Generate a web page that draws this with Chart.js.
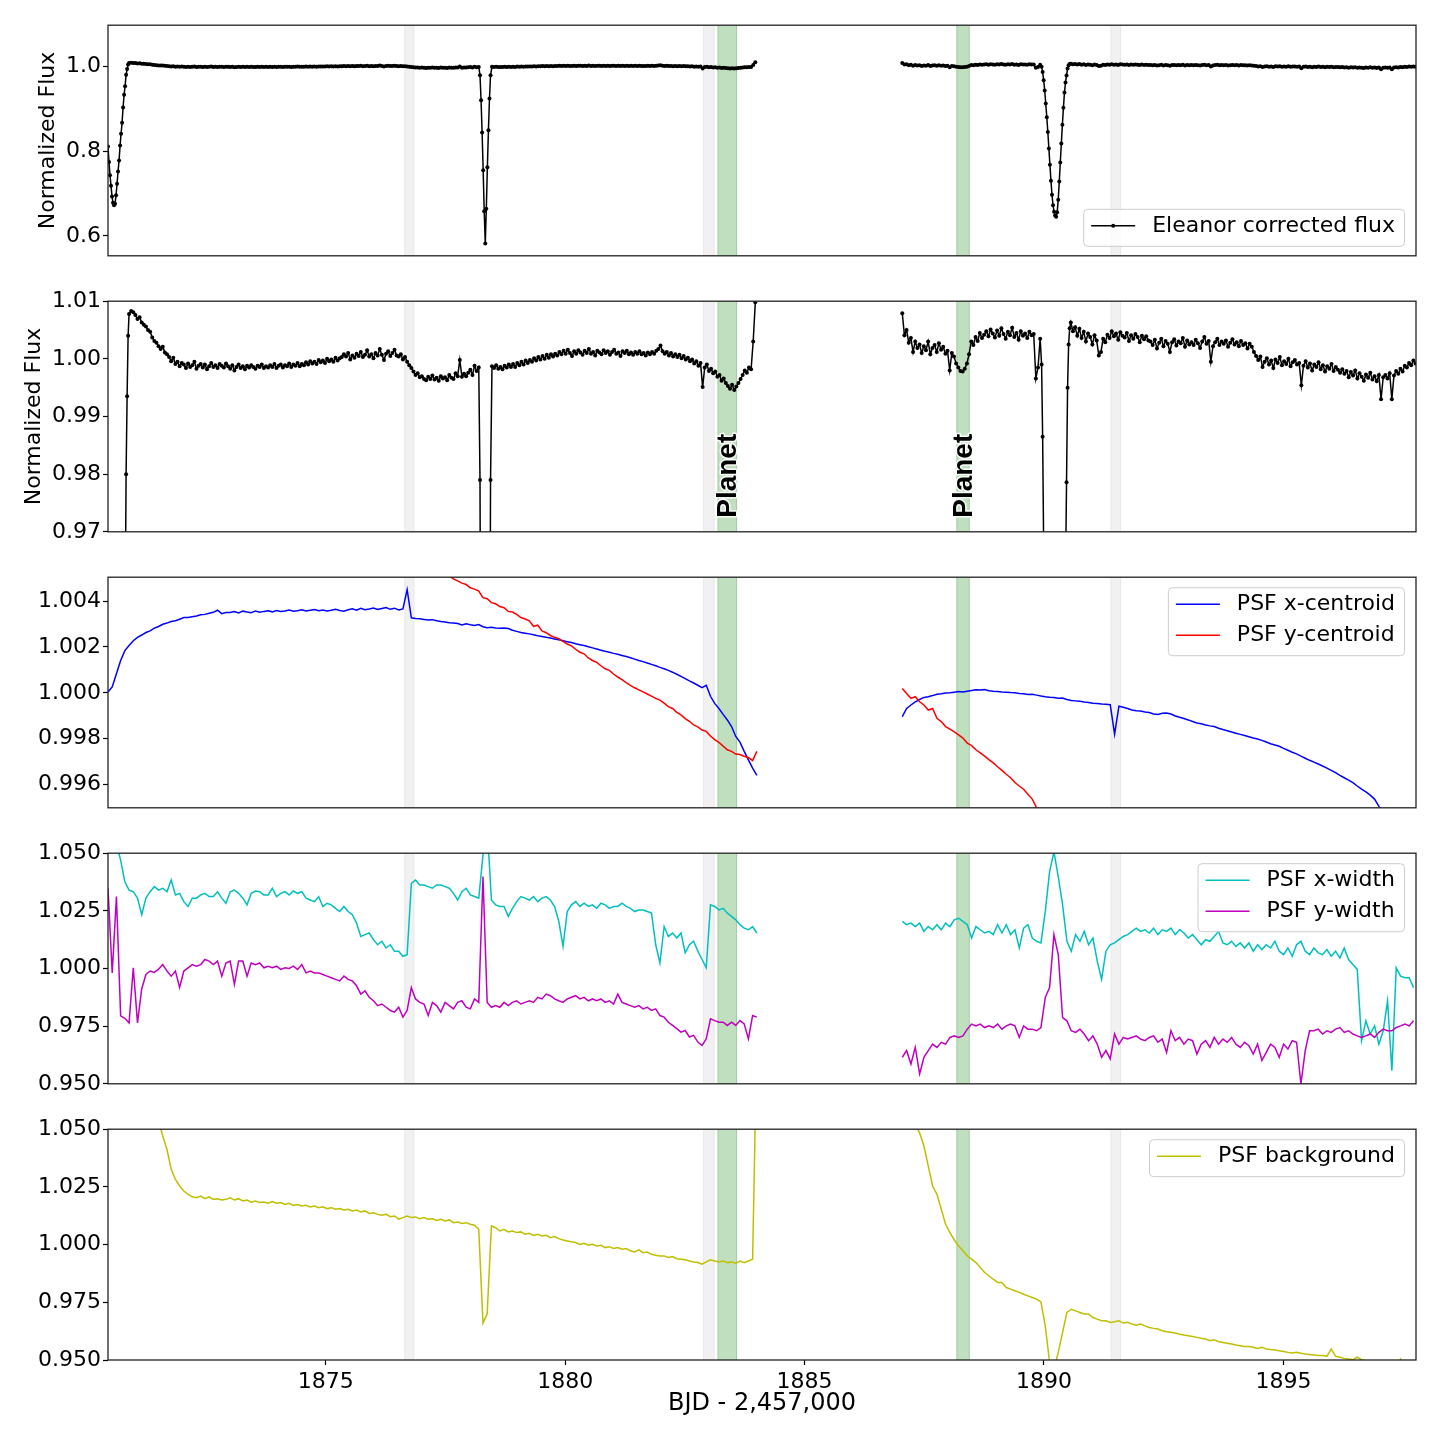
<!DOCTYPE html>
<html>
<head>
<meta charset="utf-8">
<title>Eleanor light curve and PSF diagnostics</title>
<script src="https://cdn.jsdelivr.net/npm/chart.js@4.4.0/dist/chart.umd.min.js"></script>
<style>
  html, body { margin: 0; padding: 0; background: #fff; }
  #wrap { position: relative; width: 1440px; height: 1440px; overflow: hidden; }
  #wrap canvas { position: absolute; left: 0; }
</style>
</head>
<body>
<div id="wrap">
  <canvas id="p1" width="1440" height="261"></canvas>
  <canvas id="p2" width="1440" height="261"></canvas>
  <canvas id="p3" width="1440" height="261"></canvas>
  <canvas id="p4" width="1440" height="261"></canvas>
  <canvas id="p5" width="1440" height="326"></canvas>
</div>
<script>
// x axis (BJD - 2457000)
const xMin = 1870.45, xMax = 1897.77;
const xTicks = [1875, 1880, 1885, 1890, 1895];
const gapTime = 1885.5;

// shaded regions
const grayBands = [[1876.64, 1876.85], [1882.88, 1883.12], [1891.39, 1891.61]];
const planetBands = [[1883.18, 1883.59], [1888.17, 1888.45]];

// y ticks per panel
const fluxTicksWide = [0.6, 0.8, 1.0];
const fluxTicksZoom = [0.97, 0.98, 0.99, 1.00, 1.01];
const centroidTicks = [0.996, 0.998, 1.000, 1.002, 1.004];
const widthTicks = [0.950, 0.975, 1.000, 1.025, 1.050];
const backgroundTicks = [0.950, 0.975, 1.000, 1.025, 1.050];

// eleanor corrected flux, in pieces (start time, cadence, values)
const fluxStartA = 1870.45, fluxStepA = 0.021;
const fluxA = [0.811,0.774,0.743,0.718,0.693,0.678,0.672,0.676,0.696,0.723,0.752,0.778,0.813,0.841,0.867,0.903,0.933,0.953,0.980,0.9935,1.0040];
const fluxStartB = 1870.89, fluxStepB = 0.044;
const fluxB = [1.0078,1.0083,1.0081,1.0076,1.0069,1.0072,1.0063,1.0059,1.0056,1.0050,1.0047,
  1.0037,1.0031,1.0028,1.0022,1.0017,1.0021,1.0011,1.0008,1.0003,
  0.9996,1.0002,0.9991,0.9995,0.9987,0.9993,
  0.9990,0.9984,0.9992,0.9986,0.9989,0.9995,0.9983,0.9988,0.9991,0.9985,0.9990,0.9982,0.9987,0.9993,0.9986,0.9989,0.9984,0.9991,0.9988,0.9985,0.9992,0.9987,0.9983,
  0.9989,0.9980,0.9986,0.9990,0.9984,0.9987,0.9982,0.9988,0.9985,0.9989,0.9986,0.9983,0.9988,0.9986,0.9990,0.9984,0.9987,0.9985,0.9989,0.9986,0.9991,0.9984,0.9988,0.9990,0.9985,0.9989,0.9987,0.9992,0.9986,0.9990,0.9988,0.9993,0.9987,0.9991,
  0.9989,0.9994,0.9990,0.9996,0.9992,0.9995,0.9991,0.9998,0.9994,0.9997,0.9993,1.0000,0.9996,0.9999,0.9995,1.0002,0.9997,1.0001,
  1.0003,1.0008,1.0004,1.0010,0.9999,1.0006,1.0002,1.0009,1.0005,1.0012,1.0003,1.0007,1.0015,1.0004,1.0008,1.0001,1.0010,1.0006,1.0017,1.0007,0.9998,1.0009,1.0013,1.0005,1.0010,1.0016,1.0006,
  1.0004,1.0008,0.9999,1.0003,0.9995,0.9989,0.9984,
  0.9978,0.9972,0.9975,0.9968,0.9970,0.9965,
  0.9963,0.9969,0.9965,0.9971,0.9964,0.9967,0.9962,0.9970,0.9966,0.9968,0.9963,0.9972,0.9967,0.9965,0.9975,0.9970,0.9998,0.9969,0.9974,0.9970,
  0.9976,0.9981,0.9972,0.9988,0.9979,0.9985];
const fluxStartC = 1878.22, fluxStepC = 0.022;
const fluxC = [0.979,0.920,0.844,0.755,0.658,0.582,0.664,0.762,0.849,0.924,0.979];
const fluxStartD = 1878.47, fluxStepD = 0.044;
const fluxD = [0.9987,0.9984,0.9989,0.9983,0.9986,0.9982,0.9988,0.9985,0.9990,0.9986,
  0.9991,0.9986,0.9993,0.9989,0.9995,0.9990,0.9997,0.9993,0.9998,0.9995,1.0001,0.9997,1.0003,0.9999,1.0005,1.0000,1.0007,1.0002,1.0008,1.0004,1.0009,
  1.0006,1.0012,1.0008,1.0014,1.0009,1.0016,1.0010,1.0005,1.0013,1.0009,1.0015,1.0011,1.0007,1.0014,1.0010,1.0017,1.0009,1.0012,1.0006,1.0014,
  1.0011,1.0008,1.0015,1.0010,1.0013,1.0007,1.0012,1.0016,1.0009,1.0011,1.0005,1.0013,1.0010,1.0014,1.0008,1.0011,1.0007,1.0012,1.0009,1.0013,1.0008,
  1.0010,1.0006,1.0011,1.0008,1.0012,1.0009,1.0014,
  1.0017,1.0023,1.0013,1.0009,1.0012,1.0006,1.0010,1.0004,1.0008,1.0003,1.0007,1.0001,1.0005,0.9999,
  1.0002,0.9996,0.9999,0.9992,0.9996,0.9988,0.9993,0.9951,0.9985,0.9990,0.9979,0.9983,
  0.9975,0.9978,0.9969,0.9972,0.9962,0.9966,0.9958,
  0.9953,0.9948,0.9955,0.9946,0.9952,0.9958,0.9965,
  0.9972,0.9980,0.9976,0.9985,0.9982,1.0030,1.0098];
const fluxStartE = 1887.04, fluxStepE = 0.045;
const fluxE = [1.0079,1.0041,1.0050,1.0028,1.0036,1.0012,1.0030,1.0019,1.0025,1.0010,
  1.0022,1.0015,1.0030,1.0008,1.0019,1.0024,1.0012,1.0027,1.0016,1.0021,1.0009,1.0014,0.9980,
  1.0010,1.0004,0.9992,0.9985,0.9979,0.9978,0.9983,0.9992,1.0008,
  1.0030,1.0024,1.0038,1.0031,1.0045,1.0036,1.0042,1.0048,1.0039,1.0051,
  1.0044,1.0037,1.0049,1.0040,1.0053,1.0043,1.0035,1.0047,1.0041,1.0054,1.0038,1.0045,1.0033,1.0048,1.0040,1.0044,1.0036,1.0047,1.0041,1.0043,0.9966,
  0.9985,1.0035];
const fluxStartF = 1889.95, fluxStepF = 0.0217;
const fluxF = [0.9990,0.9865,0.967,0.943,0.912,0.880,0.845,0.806,0.768,0.730,0.697,0.672,0.657,0.648,0.645,0.656,0.685,0.728,0.773,0.818,0.862,0.902,0.938,0.962,0.9786,0.9950,1.0025,1.0053];
const fluxStartG = 1890.56, fluxStepG = 0.045;
const fluxG = [1.0063,1.0048,1.0055,1.0040,1.0052,1.0036,1.0047,1.0030,1.0044,1.0038,1.0025,1.0041,1.0032,
  1.0006,1.0012,1.0035,1.0029,
  1.0042,1.0036,1.0048,1.0039,1.0044,1.0033,1.0046,1.0040,1.0037,1.0045,1.0031,1.0041,1.0035,1.0043,1.0038,1.0029,1.0040,1.0034,1.0039,1.0032,
  1.0030,1.0024,1.0033,1.0018,1.0028,1.0035,1.0022,1.0031,1.0026,1.0012,1.0029,1.0034,1.0023,1.0030,1.0027,1.0036,1.0021,1.0032,1.0025,1.0029,
  1.0024,1.0033,1.0027,1.0019,1.0030,1.0038,1.0026,1.0031,0.9995,1.0022,1.0029,1.0035,1.0024,1.0030,1.0026,1.0032,1.0021,1.0028,1.0034,1.0025,
  1.0029,1.0022,1.0031,1.0024,1.0027,1.0018,1.0026,1.0021,1.0012,1.0005,
  0.9998,1.0004,0.9986,0.9995,1.0001,0.9990,0.9997,0.9984,0.9999,0.9993,1.0003,0.9989,0.9996,0.9991,1.0000,0.9987,0.9994,0.9998,0.9990,
  0.9993,0.9954,0.9988,0.9996,0.9985,0.9992,0.9980,0.9990,0.9986,0.9994,0.9982,0.9989,0.9978,0.9987,0.9983,0.9991,0.9979,0.9986,0.9981,0.9976,
  0.9982,0.9974,0.9979,0.9968,0.9977,0.9971,0.9980,0.9966,0.9975,0.9969,0.9962,0.9973,0.9967,0.9976,0.9964,0.9970,0.9961,0.9972,0.9930,0.9968,
  0.9972,0.9966,0.9975,0.9930,0.9971,0.9979,0.9974,0.9983,0.9978,0.9988,0.9985,0.9993,0.9989,0.9997,0.9992];

// PSF diagnostics, sampled on one grid per orbit
const orbit1Start = 1870.45, orbit1Step = 0.088;
const orbit2Start = 1887.04, orbit2Step = 0.0905;
const yCen1Start = 1877.314;

const xCen1 = [1.00004,1.00026,1.00083,1.00141,1.00184,1.00206,1.00227,1.00242,1.00252,1.00263,
  1.0027,1.00282,1.00289,1.00299,1.00304,1.00311,1.00314,1.00321,1.00328,1.00328,
  1.00332,1.00335,1.0034,1.00342,1.00347,1.00351,1.0036,1.00345,1.0035,
  1.0035,1.00354,1.00348,1.00356,1.00352,1.00349,1.00357,1.00351,1.00355,1.00358,
  1.00353,1.00359,1.00355,1.00357,1.00361,1.00356,1.00358,1.00362,1.00357,1.0036,
  1.00363,1.00358,1.00361,1.00357,1.0036,1.00364,1.00359,1.00356,1.00362,1.00366,
  1.0036,1.00368,1.00362,1.00365,1.0037,1.00363,1.00368,1.00372,1.00364,1.00369,
  1.00361,1.00366,1.0045,1.00327,
  1.00324,1.00323,1.0032,1.00317,1.00319,1.00314,1.00311,1.00309,1.00306,1.00304,
  1.00302,1.00296,1.00301,1.00297,1.00294,1.00298,1.00288,1.00284,1.00286,1.00283,
  1.00281,1.00283,1.0028,1.00273,1.00268,1.00263,1.0026,1.00257,1.00253,1.00249,
  1.00246,1.00242,1.00239,1.00235,1.00231,1.00227,1.00223,1.00219,1.00214,1.0021,
  1.00206,1.00201,1.00196,1.00191,1.00186,1.00181,1.00177,1.00172,1.00168,1.00163,
  1.00158,1.00153,1.00147,1.00141,1.00136,1.0013,1.00124,1.00118,1.00111,1.00105,
  1.00098,1.0009,1.00081,1.00072,1.00062,1.00052,1.00043,1.00033,1.00023,1.00033,
  0.99985,0.99954,0.99932,0.99906,0.99882,0.99853,0.9981,0.99785,0.99745,0.99708,
  0.99672,0.9964];
const yCen1 = [1.00545,1.00533,1.0052,1.00509,1.00497,1.00488,1.00478,1.00472,1.00458,1.00452,
  1.00443,1.00415,1.0041,1.00393,1.00388,1.00376,1.00371,1.00355,1.00352,1.00342,
  1.00328,1.00322,1.00314,1.0029,1.00295,1.0027,1.00262,1.0025,1.00242,1.00236,
  1.00224,1.00213,1.00205,1.0019,1.00177,1.0017,1.00152,1.00141,1.00133,1.00118,
  1.00105,1.00098,1.00082,1.00069,1.00058,1.00045,1.00033,1.00022,1.00013,1.00004,
  0.99995,0.99986,0.99976,0.99968,0.99955,0.9994,0.99932,0.99915,0.99904,0.99888,
  0.99876,0.9986,0.99852,0.99838,0.99832,0.99812,0.99796,0.99784,0.99768,0.99752,
  0.99745,0.99733,0.99731,0.99724,0.99718,0.99705,0.99745];
const xCen2 = [0.99896,0.99932,0.99947,0.99961,0.99971,0.9998,0.99983,0.99988,0.99994,0.99996,
  0.99999,1.0,1.00003,1.00006,1.00004,1.00007,1.0001,1.00013,1.00012,1.00014,
  1.00009,1.00007,1.00006,1.00004,1.00003,1.00001,1.0,0.99997,0.99996,0.99993,
  0.99994,0.9999,0.99986,0.99983,0.99981,0.9998,0.99976,0.99977,0.99971,0.99967,
  0.99965,0.99963,0.9996,0.99958,0.99955,0.99954,0.99951,0.9995,0.99948,0.9982,
  0.99942,0.99937,0.99932,0.99925,0.99922,0.99921,0.99917,0.99914,0.99908,0.99906,
  0.99911,0.99912,0.99908,0.99899,0.99894,0.99888,0.99882,0.99875,0.99869,0.99865,
  0.9986,0.99856,0.99853,0.99846,0.9984,0.99835,0.99829,0.99824,0.99819,0.99814,
  0.99809,0.99803,0.99799,0.99793,0.99786,0.99778,0.99773,0.99767,0.99758,0.9975,
  0.99741,0.99734,0.99724,0.99715,0.99706,0.99698,0.9969,0.99681,0.99672,0.99662,
  0.99652,0.9964,0.9963,0.9962,0.99609,0.99594,0.9958,0.99568,0.99554,0.99537,
  0.99505,0.99479,0.9946,0.9944,0.9942,0.994,0.9938,0.9936,0.9934];
const yCen2 = [1.00019,0.99997,0.99976,0.99983,0.99961,0.99947,0.99925,0.99932,0.99889,0.99875,
  0.99853,0.99842,0.9983,0.99817,0.99803,0.99781,0.9977,0.99752,0.99738,0.99724,
  0.99709,0.99695,0.99678,0.99662,0.99645,0.9963,0.99609,0.99594,0.9958,0.99558,
  0.99537,0.99499,0.9948,0.9946];

const xWid1 = [1.062,1.058,1.054,1.047,1.0376,1.034,1.0333,1.0305,1.0233,1.0305,
  1.0333,1.0355,1.034,1.0348,1.0333,1.0384,1.0319,1.0326,1.029,1.0269,
  1.0305,1.0305,1.0319,1.0326,1.0312,1.0312,1.0333,1.0305,1.0283,1.0333,
  1.034,1.0326,1.0305,1.0276,1.0326,1.0336,1.0333,1.0319,1.0319,1.0348,
  1.0312,1.0326,1.0333,1.0319,1.0336,1.0326,1.0333,1.0305,1.0297,1.029,
  1.0312,1.0269,1.0283,1.0276,1.0261,1.0247,1.0269,1.0247,1.0233,1.0197,
  1.0139,1.0147,1.0154,1.0125,1.0103,1.0118,1.0089,1.0103,1.0075,1.0075,
  1.0053,1.006,1.0369,1.0384,1.0362,1.0362,1.0355,1.0348,1.0362,1.0362,
  1.0355,1.0348,1.0326,1.0297,1.0333,1.0348,1.0319,1.0312,1.0305,1.0491,
  1.062,1.0297,1.0276,1.0269,1.0269,1.0226,1.0261,1.029,1.0312,1.0305,
  1.0297,1.0312,1.029,1.0305,1.0312,1.0297,1.0269,1.0204,1.0096,1.0247,
  1.0276,1.029,1.0269,1.0283,1.0269,1.0276,1.0261,1.0283,1.0276,1.0261,
  1.0269,1.0269,1.0283,1.0269,1.0261,1.0247,1.0254,1.0254,1.0247,1.024,
  1.0103,1.0024,1.0182,1.0139,1.0154,1.0132,1.0154,1.0068,1.0103,1.0118,
  1.0075,1.0039,1.0003,1.0276,1.0269,1.0254,1.0261,1.024,1.0226,1.0211,
  1.019,1.0175,1.0168,1.0182,1.0154];
const yWid1 = [1.0348,0.9981,1.0312,0.9795,0.9784,0.9764,1.0003,0.9764,0.9911,0.9974,
  0.9989,0.9983,0.9997,1.0017,0.9989,0.9967,0.9989,0.9918,0.9989,1.0003,
  1.0017,1.001,1.0017,1.0039,1.0032,1.0017,1.0032,0.9967,1.0024,1.0032,
  0.9931,1.0032,1.0032,0.9967,1.0024,1.0017,1.0024,1.0003,1.001,1.0003,
  1.001,0.9996,1.0003,1.0,1.001,0.9996,1.0017,0.9981,0.9989,0.9981,
  0.9981,0.9974,0.9967,0.996,0.9953,0.9946,0.9967,0.9953,0.9946,0.9925,
  0.9889,0.9903,0.9875,0.986,0.9839,0.9846,0.9832,0.9818,0.9811,0.9832,
  0.9789,0.9818,0.9917,0.9868,0.9853,0.9846,0.9796,0.9853,0.9839,0.9811,
  0.9853,0.9839,0.9825,0.9853,0.986,0.9832,0.9825,0.9868,0.9853,1.0399,
  0.9853,0.9832,0.9839,0.9832,0.9853,0.9839,0.9853,0.986,0.9846,0.9853,
  0.986,0.9853,0.9875,0.9868,0.9889,0.9882,0.9868,0.986,0.9853,0.9868,
  0.9875,0.9882,0.9868,0.9875,0.986,0.9868,0.986,0.9868,0.9853,0.986,
  0.9846,0.9889,0.9853,0.9846,0.9839,0.9832,0.9839,0.9825,0.9832,0.9818,
  0.9825,0.9796,0.9789,0.9767,0.9753,0.9739,0.9724,0.9731,0.9703,0.971,
  0.9681,0.9667,0.9695,0.9782,0.9774,0.9767,0.9767,0.9753,0.9767,0.9753,
  0.9774,0.976,0.9695,0.9796,0.9789];
const xWid2 = [1.0204,1.019,1.0197,1.0182,1.0197,1.0161,1.0182,1.0168,1.019,1.0168,
  1.0197,1.0182,1.0211,1.0218,1.0204,1.019,1.0132,1.0182,1.0168,1.0154,
  1.0161,1.0147,1.019,1.0154,1.019,1.0147,1.0168,1.0089,1.0175,1.019,
  1.0132,1.0118,1.0111,1.0247,1.042,1.0506,1.0398,1.0276,1.0118,1.0075,
  1.0147,1.0118,1.0161,1.0103,1.0132,1.0032,0.9953,1.0075,1.0103,1.0111,
  1.0125,1.0139,1.0147,1.0161,1.0175,1.0161,1.0168,1.0154,1.0175,1.0147,
  1.0168,1.0161,1.0175,1.0147,1.0168,1.0154,1.0132,1.0147,1.0125,1.0103,
  1.0125,1.0118,1.0139,1.0161,1.0111,1.0103,1.0118,1.0096,1.0111,1.0089,
  1.0111,1.0075,1.0103,1.0082,1.0103,1.0089,1.0118,1.0075,1.006,1.0089,
  1.0053,1.0103,1.0118,1.0075,1.006,1.0089,1.0068,1.006,1.0082,1.0053,
  1.0075,1.0046,1.0089,1.0039,1.0017,0.9996,0.9687,0.9773,0.9716,0.9751,
  0.9672,0.973,0.986,0.9557,1.0003,0.9967,0.996,0.996,0.9917];
const yWid2 = [0.9615,0.9644,0.9586,0.9658,0.9543,0.9615,0.9644,0.9672,0.9658,0.968,
  0.9672,0.9701,0.9708,0.9701,0.9708,0.9737,0.9759,0.9751,0.9759,0.9744,
  0.9751,0.9744,0.9759,0.9737,0.9751,0.9759,0.9751,0.9701,0.9751,0.9737,
  0.9737,0.973,0.9744,0.9874,0.9917,1.0147,1.006,0.9787,0.9773,0.973,
  0.9723,0.9737,0.9716,0.9687,0.9708,0.9672,0.9615,0.9644,0.9608,0.9716,
  0.9672,0.9701,0.9694,0.9701,0.9708,0.9694,0.9687,0.9701,0.9708,0.968,
  0.9694,0.9636,0.973,0.9687,0.9701,0.9672,0.9694,0.9687,0.9629,0.9672,
  0.9687,0.9658,0.9701,0.9672,0.9694,0.968,0.9701,0.9672,0.9658,0.968,
  0.9665,0.9629,0.9672,0.9601,0.9636,0.9672,0.9658,0.9615,0.9672,0.9651,
  0.9687,0.968,0.95,0.9644,0.973,0.973,0.9737,0.9716,0.973,0.9723,
  0.9737,0.9744,0.9723,0.973,0.9716,0.9708,0.9701,0.9708,0.9716,0.9701,
  0.9723,0.9737,0.973,0.973,0.9744,0.9751,0.9759,0.9751,0.9773];

const bg1 = [1.15,1.14,1.13,1.12,1.111,1.102,1.093,1.085,1.078,1.071,
  1.065,1.059,1.054,1.047,1.0412,1.0326,1.0282,1.0254,1.0232,1.0218,
  1.0207,1.0203,1.021,1.0199,1.0207,1.0196,1.0199,1.0193,1.0196,1.0203,
  1.0193,1.0199,1.0189,1.0193,1.0184,1.0189,1.0182,1.0184,1.0179,1.0186,
  1.0179,1.0182,1.0174,1.0179,1.017,1.0174,1.0167,1.017,1.0163,1.0167,
  1.016,1.0164,1.0156,1.016,1.0153,1.0156,1.015,1.0153,1.0146,1.015,
  1.0141,1.0146,1.0135,1.0138,1.0131,1.0127,1.0131,1.0121,1.0124,1.011,
  1.0117,1.0124,1.0117,1.012,1.0112,1.0117,1.011,1.0112,1.0105,1.011,
  1.0102,1.0107,1.0095,1.0098,1.0092,1.0095,1.0088,1.0084,1.0066,0.966,
  0.970,1.0081,1.0073,1.0059,1.0066,1.0055,1.0059,1.0052,1.0055,1.0045,
  1.0049,1.004,1.0045,1.0037,1.004,1.003,1.0035,1.0026,1.002,1.0016,
  1.0012,1.0009,1.0001,1.0006,0.9997,1.0001,0.9994,0.9997,0.9987,0.9991,
  0.9983,0.9987,0.998,0.9983,0.9973,0.9968,0.9977,0.9965,0.9968,0.9958,
  0.9954,0.9951,0.9951,0.9944,0.9948,0.9939,0.9937,0.9934,0.9929,0.9925,
  0.9922,0.9915,0.9925,0.9934,0.9929,0.9925,0.9929,0.9922,0.9925,0.9919,
  0.9929,0.9922,0.9929,0.9937,1.09];
const bg2 = [1.075,1.066,1.058,1.052,1.0484,1.0427,1.034,1.0254,1.0218,1.0153,
  1.0088,1.0052,1.002,0.9994,0.9973,0.9951,0.9937,0.9922,0.9901,0.9879,
  0.9865,0.985,0.9836,0.9836,0.9814,0.9807,0.98,0.9793,0.9785,0.9778,
  0.9771,0.9764,0.9752,0.9648,0.949,0.946,0.9533,0.962,0.9706,0.972,
  0.9713,0.9706,0.9699,0.9699,0.9684,0.9677,0.967,0.967,0.9663,0.9666,
  0.967,0.966,0.9663,0.9656,0.9651,0.9656,0.9648,0.9641,0.9637,0.9634,
  0.9627,0.9622,0.962,0.9617,0.9612,0.9608,0.9605,0.9602,0.9598,0.9594,
  0.9591,0.9584,0.9588,0.9579,0.9576,0.9573,0.9569,0.9565,0.9562,0.9559,
  0.9558,0.9555,0.955,0.9555,0.9548,0.9545,0.9543,0.954,0.9537,0.9533,
  0.953,0.9533,0.9529,0.9526,0.9524,0.9522,0.9519,0.9519,0.9516,0.9548,
  0.9516,0.9512,0.9507,0.9504,0.9501,0.9512,0.9501,0.9497,0.9493,0.949,
  0.9486,0.9483,0.9478,0.9476,0.9473,0.9504,0.9468,0.9464,0.9461];

// legend entries per panel
const legends = {
  p1: { loc: 'lower', items: [{ label: 'Eleanor corrected flux', color: '#000000', marker: true }] },
  p3: { loc: 'upper', items: [{ label: 'PSF x-centroid', color: '#0000ff' }, { label: 'PSF y-centroid', color: '#ff0000' }] },
  p4: { loc: 'upper', items: [{ label: 'PSF x-width', color: '#00bfbf' }, { label: 'PSF y-width', color: '#bf00bf' }] },
  p5: { loc: 'upper', items: [{ label: 'PSF background', color: '#bfbf00' }] }
};

function seg(start, step, values) {
  return values.map((v, i) => ({ x: start + i * step, y: v }));
}
const gap = [{ x: gapTime, y: null }];

const fluxData = [].concat(
  seg(fluxStartA, fluxStepA, fluxA), seg(fluxStartB, fluxStepB, fluxB),
  seg(fluxStartC, fluxStepC, fluxC), seg(fluxStartD, fluxStepD, fluxD), gap,
  seg(fluxStartE, fluxStepE, fluxE), seg(fluxStartF, fluxStepF, fluxF),
  seg(fluxStartG, fluxStepG, fluxG));
const xCenData = seg(orbit1Start, orbit1Step, xCen1).concat(gap, seg(orbit2Start, orbit2Step, xCen2));
const yCenData = seg(yCen1Start, orbit1Step, yCen1).concat(gap, seg(orbit2Start, orbit2Step, yCen2));
const xWidData = seg(orbit1Start, orbit1Step, xWid1).concat(gap, seg(orbit2Start, orbit2Step, xWid2));
const yWidData = seg(orbit1Start, orbit1Step, yWid1).concat(gap, seg(orbit2Start, orbit2Step, yWid2));
const bgData = seg(orbit1Start, orbit1Step, bg1).concat(gap, seg(orbit2Start, orbit2Step, bg2));

Chart.defaults.font.family = '"DejaVu Sans", sans-serif';
Chart.defaults.font.size = 22;
Chart.defaults.color = '#000';

function drawLegend(ctx, a, lg) {
  ctx.font = '22px "DejaVu Sans"';
  const textW = Math.max(...lg.items.map(it => ctx.measureText(it.label).width));
  const w = 8 + 44 + 17 + textW + 9;
  const h = lg.items.length * 31 + 6;
  const x0 = a.right - 12 - w;
  const y0 = lg.loc === 'lower' ? a.bottom - 10 - h : a.top + 10;
  ctx.beginPath();
  if (ctx.roundRect) ctx.roundRect(x0 + 0.5, y0 + 0.5, w, h, 4); else ctx.rect(x0 + 0.5, y0 + 0.5, w, h);
  ctx.fillStyle = 'rgba(255,255,255,0.8)';
  ctx.fill();
  ctx.strokeStyle = '#cccccc';
  ctx.lineWidth = 1;
  ctx.stroke();
  lg.items.forEach((it, i) => {
    const cy = y0 + 17 + 31 * i;
    ctx.strokeStyle = it.color;
    ctx.lineWidth = 1.5;
    ctx.beginPath();
    ctx.moveTo(x0 + 8, cy);
    ctx.lineTo(x0 + 52, cy);
    ctx.stroke();
    if (it.marker) {
      ctx.fillStyle = it.color;
      ctx.beginPath();
      ctx.arc(x0 + 30, cy, 2, 0, 2 * Math.PI);
      ctx.fill();
    }
    ctx.fillStyle = '#000';
    ctx.textAlign = 'left';
    ctx.textBaseline = 'middle';
    ctx.fillText(it.label, x0 + 69, cy);
  });
}

// shaded bands, spines, planet labels and legend boxes
const decor = {
  id: 'decor',
  beforeDatasetsDraw(chart) {
    const { ctx, chartArea: a, scales: { x } } = chart;
    ctx.save();
    ctx.beginPath();
    ctx.rect(a.left, a.top, a.width, a.height);
    ctx.clip();
    const band = (s, e, fill, edge) => {
      const x0 = x.getPixelForValue(s), x1 = x.getPixelForValue(e);
      ctx.fillStyle = fill;
      ctx.fillRect(x0, a.top, x1 - x0, a.height);
      ctx.strokeStyle = edge;
      ctx.lineWidth = 1;
      ctx.strokeRect(x0 + 0.5, a.top - 2, x1 - x0 - 1, a.height + 4);
    };
    grayBands.forEach(b => band(b[0], b[1], 'rgba(128,128,128,0.11)', 'rgba(128,128,128,0.08)'));
    planetBands.forEach(b => band(b[0], b[1], 'rgba(0,128,0,0.25)', 'rgba(0,128,0,0.18)'));
    ctx.restore();
  },
  afterDraw(chart) {
    const { ctx, chartArea: a, scales: { x } } = chart;
    const id = chart.canvas.id;
    ctx.save();
    if (id === 'p2') {
      ctx.font = 'bold 28px "Liberation Sans", Arial, sans-serif';
      planetBands.forEach(b => {
        const cx = x.getPixelForValue((b[0] + b[1]) / 2);
        ctx.save();
        ctx.translate(cx + 1, a.bottom - 14);
        ctx.rotate(-Math.PI / 2);
        ctx.textAlign = 'left';
        ctx.textBaseline = 'middle';
        ctx.lineJoin = 'round';
        ctx.strokeStyle = 'rgba(255,255,255,0.9)';
        ctx.lineWidth = 3;
        ctx.strokeText('Planet', 0, 0);
        ctx.fillStyle = '#000';
        ctx.fillText('Planet', 0, 0);
        ctx.restore();
      });
    }
    ctx.strokeStyle = '#222';
    ctx.lineWidth = 1.3;
    ctx.strokeRect(a.left, a.top, a.width, a.height);
    if (legends[id]) drawLegend(ctx, a, legends[id]);
    ctx.restore();
  }
};

const panelTops = [25, 301, 577, 853, 1129];

function lineSet(data, color, order) {
  return { data, borderColor: color, backgroundColor: color, borderWidth: 1.5, pointRadius: 0,
           tension: 0, spanGaps: false, clip: 0, fill: false, order };
}

function makePanel(id, index, datasets, yMin, yMax, yTicks, decimals, yTitle, titlePad) {
  const isBottom = index === 4;
  const canvas = document.getElementById(id);
  canvas.style.top = (panelTops[index] - 15) + 'px';
  const tickGrid = { drawOnChartArea: false, drawTicks: true, tickLength: 5, tickColor: '#000', tickWidth: 1.2 };
  const xScale = {
    type: 'linear', min: xMin, max: xMax, display: isBottom,
    afterBuildTicks: s => { s.ticks = xTicks.map(v => ({ value: v })); },
    ticks: { callback: v => String(v), font: { size: 22 }, color: '#000', padding: 4, maxRotation: 0, autoSkip: false },
    grid: tickGrid,
    border: { display: false },
    title: { display: isBottom, text: 'BJD - 2,457,000', font: { size: 24 }, color: '#000', padding: { top: 0, bottom: 22 } }
  };
  if (isBottom) xScale.afterFit = s => { s.height = 80; };
  return new Chart(canvas.getContext('2d'), {
    type: 'line',
    data: { datasets },
    plugins: [decor],
    options: {
      responsive: false,
      animation: false,
      devicePixelRatio: 1,
      events: [],
      layout: { autoPadding: false, padding: { top: 15, bottom: isBottom ? 0 : 15, left: 0, right: 24 } },
      plugins: { legend: { display: false }, tooltip: { enabled: false } },
      scales: {
        x: xScale,
        y: {
          type: 'linear', min: yMin, max: yMax,
          afterFit: s => { s.width = 108; },
          afterBuildTicks: s => { s.ticks = yTicks.map(v => ({ value: v })); },
          ticks: { callback: v => Number(v).toFixed(decimals), font: { size: 22 }, color: '#000', padding: 2, autoSkip: false },
          grid: tickGrid,
          border: { display: false },
          title: { display: !!yTitle, text: yTitle || '', font: { size: 22 }, color: '#000', padding: { top: titlePad || 0, bottom: 0 } }
        }
      }
    }
  });
}

const fluxSet = () => ({ data: fluxData, borderColor: '#000', backgroundColor: '#000', borderWidth: 1.5,
  pointRadius: 2, pointBorderWidth: 0, pointHoverRadius: 0, tension: 0, spanGaps: false, clip: 0 });

makePanel('p1', 0, [fluxSet()], 0.553, 1.097, fluxTicksWide, 1, 'Normalized Flux', 35);
makePanel('p2', 1, [fluxSet()], 0.97, 1.01, fluxTicksZoom, 2, 'Normalized Flux', 21);
makePanel('p3', 2, [lineSet(xCenData, '#0000ff', 1), lineSet(yCenData, '#ff0000', 0)], 0.99499, 1.00504, centroidTicks, 3);
makePanel('p4', 3, [lineSet(xWidData, '#00bfbf', 1), lineSet(yWidData, '#bf00bf', 0)], 0.95, 1.05, widthTicks, 3);
makePanel('p5', 4, [lineSet(bgData, '#bfbf00', 0)], 0.95, 1.05, backgroundTicks, 3);
</script>
</body>
</html>
